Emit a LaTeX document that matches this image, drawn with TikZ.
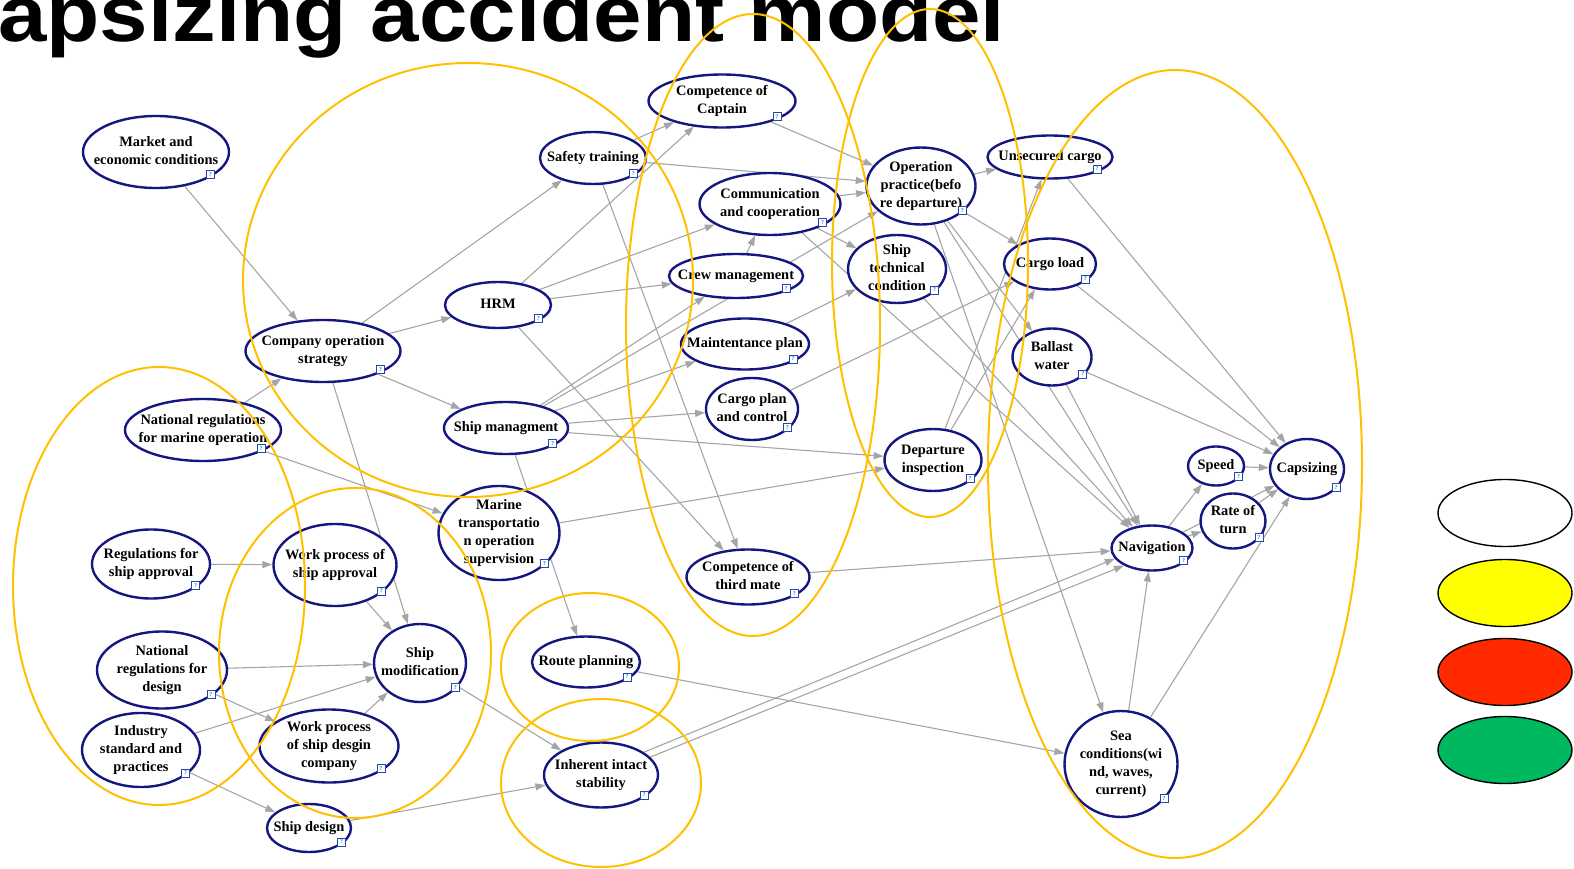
\documentclass[tikz,border=0pt]{standalone}
\usepackage{fontspec}
\setmainfont{Liberation Serif}
\newfontfamily\titlesans{Liberation Sans}
\usetikzlibrary{shapes.geometric, arrows.meta, backgrounds}
\definecolor{navyb}{RGB}{22,22,128}
\definecolor{grpc}{RGB}{255,192,0}
\definecolor{edgegray}{RGB}{165,165,165}
\definecolor{legred}{RGB}{255,42,0}
\definecolor{legyellow}{RGB}{255,255,0}
\definecolor{leggreen}{RGB}{0,184,96}
\definecolor{qblue}{RGB}{40,70,170}
\newcommand{\ztxt}[1]{\makebox[0pt][c]{\raisebox{-0.25em}[0pt][0pt]{\begin{tabular}{@{}c@{}}#1\end{tabular}}}}
\tikzset{
  bn/.style={ellipse, draw=navyb, line width=2.4pt, fill=white, inner sep=0pt,
             font=\fontsize{14.4}{18}\selectfont\bfseries},
  ed/.style={draw=edgegray, line width=1.1pt, -{Triangle[length=10pt,width=7pt]}},
  grpell/.style={draw=grpc, line width=2pt},
  qicon/.style={draw=qblue, fill=white, line width=0.6pt, minimum size=8pt, inner sep=0pt,
                text=qblue!60!cyan, font=\fontsize{6}{6}\selectfont\bfseries},
  legell/.style={ellipse, draw=black, line width=1.4pt, minimum width=134pt, minimum height=67pt, inner sep=0pt},
}
\begin{document}
\begin{tikzpicture}[x=1pt,y=-1pt]
\useasboundingbox (0,0) rectangle (1574,869);

% title
\node[anchor=base west, inner sep=0pt, font=\titlesans\bfseries\fontsize{66}{70}\selectfont] (title) at (-2,42) {\scalebox{1.32}[1.2]{apsizing accident model}};

% nodes
\node[bn, minimum width=146pt, minimum height=72pt] (market) at (156,152) {\ztxt{Market and\\economic conditions}};
\node[bn, minimum width=155pt, minimum height=62pt] (company) at (323,351) {\ztxt{Company operation\\strategy}};
\node[bn, minimum width=106pt, minimum height=46pt] (hrm) at (498,305) {\ztxt{HRM}};
\node[bn, minimum width=106pt, minimum height=52pt] (safety) at (593,158) {\ztxt{Safety training}};
\node[bn, minimum width=147pt, minimum height=53pt] (captain) at (722,101) {\ztxt{Competence of\\Captain}};
\node[bn, minimum width=141pt, minimum height=62pt] (comm) at (770,204) {\ztxt{Communication\\and cooperation}};
\node[bn, minimum width=134pt, minimum height=44pt] (crew) at (736,276) {\ztxt{Crew management}};
\node[bn, minimum width=128pt, minimum height=51pt] (maint) at (745,344) {\ztxt{Maintentance plan}};
\node[bn, minimum width=92pt, minimum height=62pt] (cargoplan) at (752,409) {\ztxt{Cargo plan\\and control}};
\node[bn, minimum width=124pt, minimum height=52pt] (shipman) at (506,428) {\ztxt{Ship managment}};
\node[bn, minimum width=121pt, minimum height=94pt] (marine) at (499,533) {\ztxt{Marine\\transportatio\\n operation\\supervision}};
\node[bn, minimum width=123pt, minimum height=55pt] (third) at (748,577) {\ztxt{Competence of\\third mate}};
\node[bn, minimum width=108pt, minimum height=51pt] (route) at (586,662) {\ztxt{Route planning}};
\node[bn, minimum width=114pt, minimum height=65pt] (inherent) at (601,775) {\ztxt{Inherent intact\\stability}};
\node[bn, minimum width=156pt, minimum height=62pt] (natmarine) at (203,430) {\ztxt{National regulations\\for marine operation}};
\node[bn, minimum width=118pt, minimum height=69pt] (regapp) at (151,564) {\ztxt{Regulations for\\ship approval}};
\node[bn, minimum width=123pt, minimum height=82pt] (wpapp) at (335,565) {\ztxt{Work process of\\ship approval}};
\node[bn, minimum width=130pt, minimum height=77pt] (natdesign) at (162,670) {\ztxt{National\\regulations for\\design}};
\node[bn, minimum width=92pt, minimum height=78pt] (shipmod) at (420,663) {\ztxt{Ship\\modification}};
\node[bn, minimum width=118pt, minimum height=74pt] (industry) at (141,750) {\ztxt{Industry\\standard and\\practices}};
\node[bn, minimum width=139pt, minimum height=73pt] (wpdesign) at (329,746) {\ztxt{Work process\\of ship desgin\\company}};
\node[bn, minimum width=84pt, minimum height=48pt] (shipdesign) at (309,828) {\ztxt{Ship design}};
\node[bn, minimum width=109pt, minimum height=77pt] (oppr) at (921,186) {\ztxt{Operation\\practice(befo\\re departure)}};
\node[bn, minimum width=125pt, minimum height=43pt] (unsecured) at (1050,157) {\ztxt{Unsecured cargo}};
\node[bn, minimum width=98pt, minimum height=68pt] (shiptech) at (897,269) {\ztxt{Ship\\technical\\condition}};
\node[bn, minimum width=92pt, minimum height=51pt] (cargoload) at (1050,264) {\ztxt{Cargo load}};
\node[bn, minimum width=79pt, minimum height=57pt] (ballast) at (1052,357) {\ztxt{Ballast\\water}};
\node[bn, minimum width=97pt, minimum height=62pt] (departure) at (933,460) {\ztxt{Departure\\inspection}};
\node[bn, minimum width=81pt, minimum height=45pt] (nav) at (1152,548) {\ztxt{Navigation}};
\node[bn, minimum width=56pt, minimum height=39pt] (speed) at (1216,466) {\ztxt{Speed}};
\node[bn, minimum width=65pt, minimum height=55pt] (rate) at (1233,521) {\ztxt{Rate of\\turn}};
\node[bn, minimum width=74pt, minimum height=60pt] (capsizing) at (1307,469) {\ztxt{Capsizing}};
\node[bn, minimum width=113pt, minimum height=106pt] (sea) at (1121,764) {\ztxt{Sea\\conditions(wi\\nd, waves,\\current)}};

% help icons
\foreach \n in {market,company,hrm,safety,captain,comm,crew,maint,cargoplan,shipman,marine,third,route,inherent,natmarine,regapp,wpapp,natdesign,shipmod,industry,wpdesign,shipdesign,oppr,unsecured,shiptech,cargoload,ballast,departure,nav,speed,rate,capsizing,sea}
  \node[qicon] (q\n) at ([shift={(2pt,4pt)}]\n.south east) {?};

% connectors
\begin{pgfonlayer}{background}
\draw[ed] (market) -- (company);
\draw[ed] (company) -- (safety);
\draw[ed] (company) -- (hrm);
\draw[ed] (company) -- (shipman);
\draw[ed] (company) -- (shipmod);
\draw[ed] (natmarine) -- (company);
\draw[ed] (natmarine) -- (marine);
\draw[ed] (hrm) -- (captain);
\draw[ed] (hrm) -- (comm);
\draw[ed] (hrm) -- (crew);
\draw[ed] (hrm) -- (third);
\draw[ed] (safety) -- (captain);
\draw[ed] (safety) -- (oppr);
\draw[ed] (safety) -- (third);
\draw[ed] (captain) -- (oppr);
\draw[ed] (comm) -- (oppr);
\draw[ed] (comm) -- (shiptech);
\draw[ed] (comm) -- (nav);
\draw[ed] (crew) -- (comm);
\draw[ed] (shipman) -- (crew);
\draw[ed] (shipman) -- (oppr);
\draw[ed] (shipman) -- (maint);
\draw[ed] (shipman) -- (cargoplan);
\draw[ed] (shipman) -- (departure);
\draw[ed] (shipman) -- (route);
\draw[ed] (maint) -- (shiptech);
\draw[ed] (cargoplan) -- (cargoload);
\draw[ed] (marine) -- (departure);
\draw[ed] (departure) -- (cargoload);
\draw[ed] (departure) -- (unsecured);
\draw[ed] (oppr) -- (unsecured);
\draw[ed] (oppr) -- (cargoload);
\draw[ed] (oppr) -- (ballast);
\draw[ed] (oppr) -- (nav);
\draw[ed] (oppr) -- (sea);
\draw[ed] (shiptech) -- (nav);
\draw[ed] (ballast) -- (nav);
\draw[ed] (ballast) -- (capsizing);
\draw[ed] (cargoload) -- (capsizing);
\draw[ed] (unsecured) -- (capsizing);
\draw[ed] (third) -- (nav);
\draw[ed] (inherent.28) -- (nav.196);
\draw[ed] (inherent.20) -- (nav.212);
\draw[ed] (route) -- (sea);
\draw[ed] (sea) -- (nav);
\draw[ed] (sea) -- (capsizing);
\draw[ed] (nav) -- (speed);
\draw[ed] (nav) -- (rate);
\draw[ed] (nav) -- (capsizing);
\draw[ed] (speed) -- (capsizing);
\draw[ed] (rate) -- (capsizing);
\draw[ed] (regapp) -- (wpapp);
\draw[ed] (wpapp) -- (shipmod);
\draw[ed] (natdesign) -- (shipmod);
\draw[ed] (natdesign) -- (wpdesign);
\draw[ed] (industry) -- (shipmod);
\draw[ed] (industry) -- (shipdesign);
\draw[ed] (wpdesign) -- (shipmod);
\draw[ed] (shipmod) -- (inherent);
\draw[ed] (shipdesign) -- (inherent);
\end{pgfonlayer}

% group outlines
\draw[grpell] (468,280) ellipse [x radius=225, y radius=217];
\draw[grpell] (753,325) ellipse [x radius=127, y radius=311];
\draw[grpell] (930,263) ellipse [x radius=98, y radius=254];
\draw[grpell] (1175,464) ellipse [x radius=187, y radius=394];
\draw[grpell] (159,586) ellipse [x radius=146, y radius=219];
\draw[grpell] (355,653) ellipse [x radius=136, y radius=165];
\draw[grpell] (590,667) ellipse [x radius=89, y radius=74];
\draw[grpell] (601,783) ellipse [x radius=100, y radius=84];

% legend
\node[legell, fill=white] (legwhite) at (1505,513) {};
\node[legell, fill=legyellow] (legyel) at (1505,593) {};
\node[legell, fill=legred] (legred) at (1505,672) {};
\node[legell, fill=leggreen] (leggreen) at (1505,750) {};
\end{tikzpicture}
\end{document}
